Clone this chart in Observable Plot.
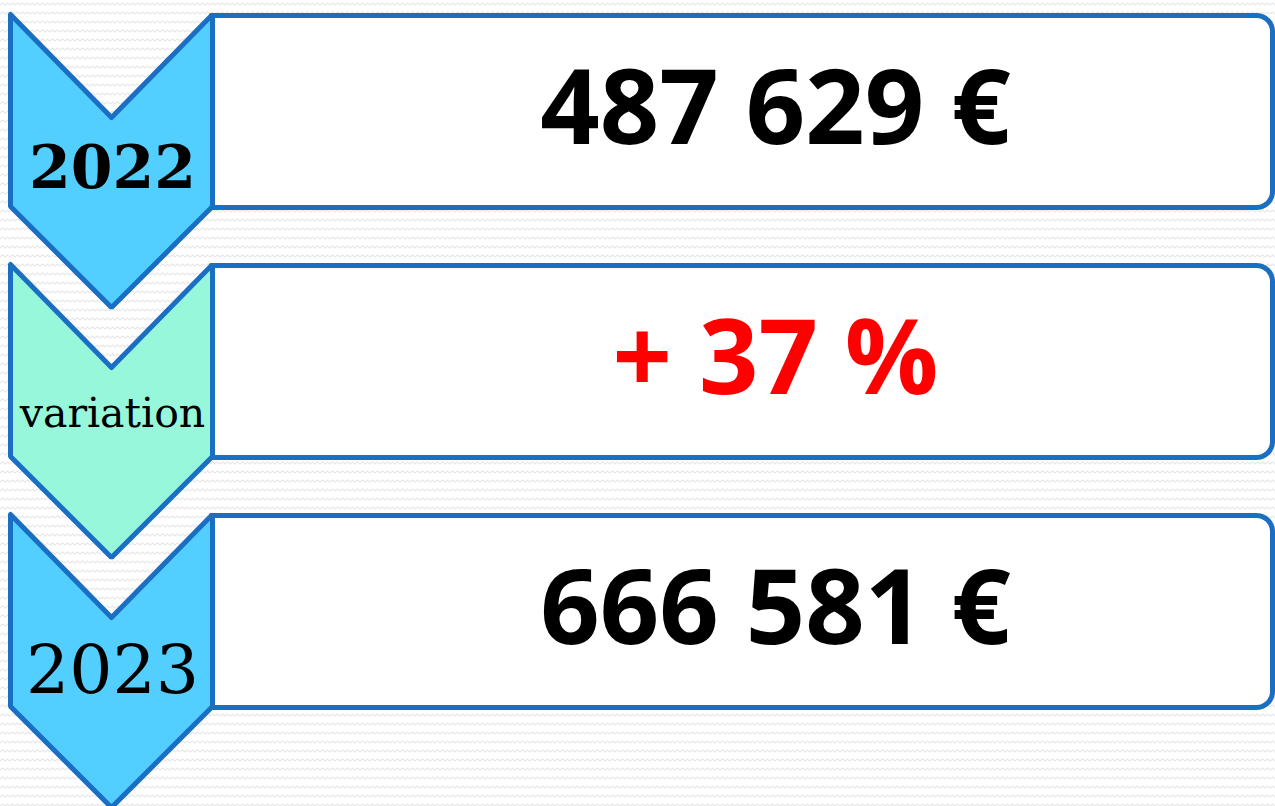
<!DOCTYPE html>
<html><head><meta charset="utf-8">
<script src="https://cdn.jsdelivr.net/npm/d3@7"></script>
<script src="https://cdn.jsdelivr.net/npm/@observablehq/plot@0.6"></script>
<style>
html,body{margin:0;padding:0;}
body{width:1275px;height:806px;overflow:hidden;background:#fff url("data:image/svg+xml;utf8,<svg xmlns='http://www.w3.org/2000/svg' width='10' height='9'><path d='M0 5 L2.5 3 L5 5 L7.5 3 L10 5' fill='none' stroke='%23e8e8e8' stroke-width='1.2'/></svg>") repeat;}
#chart svg{background:transparent !important;}
</style>
</head><body><div id="chart"></div>
<script>
// data
const labels = ["2022", "variation", "2023"];
const values = ["487 629 €", "+ 37 %", "666 581 €"];

// styles
const chevronFills = ["#53CFFF", "#97F7DA", "#53CFFF"];
const valueColors = ["#000000", "#FF0000", "#000000"];
const labelFonts = [
  {size: 60, weight: "bold", dy: 173},
  {size: 41, weight: "normal", dy: 162},
  {size: 68, weight: "normal", dy: 178}
];
const strokeBlue = "#1A6FC4";

// layout
const W = 1275, H = 806;
const rowTop = i => 14 + 250 * i;
const chevL = 10, chevR = 212, chevMid = 111, notch = 103, side = 192, tip = 293;
const boxL = 211, boxR = 1272, boxTopOff = 1, boxBotOff = 193, rad = 16;

const rows = labels.map((label, i) => ({label, value: values[i], row: i}));

function chevronPts(i) {
  const t = rowTop(i);
  return [[chevL, t], [chevMid, t + notch], [chevR, t], [chevR, t + side], [chevMid, t + tip], [chevL, t + side], [chevL, t], [chevMid, t + notch]]
    .map(([x, y]) => ({x, y, row: i}));
}
function boxPts(i) {
  const t = rowTop(i), top = t + boxTopOff, bot = t + boxBotOff;
  const pts = [[boxL, top], [boxR - rad, top]];
  for (let k = 1; k <= 12; k++) {
    const a = -Math.PI / 2 + (k / 12) * (Math.PI / 2);
    pts.push([boxR - rad + rad * Math.cos(a), top + rad + rad * Math.sin(a)]);
  }
  pts.push([boxR, bot - rad]);
  for (let k = 1; k <= 12; k++) {
    const a = (k / 12) * (Math.PI / 2);
    pts.push([boxR - rad + rad * Math.cos(a), bot - rad + rad * Math.sin(a)]);
  }
  pts.push([boxL, bot], [boxL, top]);
  return pts.map(([x, y]) => ({x, y, row: i}));
}

const marks = [];
rows.forEach((r, i) => {
  marks.push(Plot.line(boxPts(i), {x: "x", y: "y", fill: "white", stroke: strokeBlue, strokeWidth: 5, strokeLinejoin: "round", curve: "linear"}));
});
rows.forEach((r, i) => {
  marks.push(Plot.line(chevronPts(i), {x: "x", y: "y", fill: chevronFills[i], stroke: strokeBlue, strokeWidth: 5, strokeLinejoin: "miter", curve: "linear"}));
});
marks.push(Plot.text(rows, {
  x: () => 775, y: d => rowTop(d.row) + 129, text: "value",
  fill: d => valueColors[d.row], fontSize: 104, fontWeight: "bold",
  fontFamily: "'Open Sans', sans-serif", textAnchor: "middle", lineAnchor: "bottom"
}));
rows.forEach((r, i) => {
  const f = labelFonts[i];
  marks.push(Plot.text([r], {
    x: () => chevMid + 1, y: d => rowTop(d.row) + f.dy, text: "label",
    fill: "#000", fontSize: f.size, fontWeight: f.weight,
    fontFamily: "'DejaVu Serif', serif", textAnchor: "middle", lineAnchor: "bottom"
  }));
});

const chart = Plot.plot({
  width: W, height: H,
  margin: 0,
  x: {type: "linear", domain: [0, W], range: [0, W], axis: null},
  y: {type: "linear", domain: [0, H], range: [0, H], axis: null},
  color: {type: "identity"},
  style: {background: "transparent", overflow: "visible"},
  marks
});
document.getElementById("chart").appendChild(chart);
</script>
</body></html>
